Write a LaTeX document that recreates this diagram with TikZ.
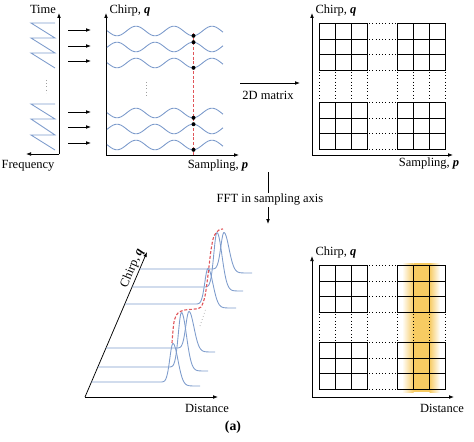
\documentclass[tikz,border=0pt]{standalone}
\usepackage{fontspec}
\setmainfont{Liberation Serif}
\usetikzlibrary{arrows.meta, positioning, calc}
\definecolor{TraceBlue}{HTML}{7E9CCC}
\definecolor{PeakRed}{HTML}{E0555A}
\definecolor{BinYellow}{HTML}{F7CB62}
\definecolor{DotGray}{HTML}{A0A0A0}
\tikzset{
  axis/.style={-{Latex[length=4pt,width=3pt]}, line width=0.6pt},
  flow/.style={-{Latex[length=4pt,width=3pt]}, line width=0.6pt},
  trace/.style={TraceBlue, line width=0.7pt},
  cell/.style={line width=1.3pt, line cap=rect},
  gapline/.style={dotted, line width=0.6pt},
  redline/.style={PeakRed, dash pattern=on 2.4pt off 1.4pt, line width=0.9pt},
  lbl/.style={font=\fontsize{10}{12}\selectfont, inner sep=1pt},
  sample/.style={circle, fill=black, inner sep=0pt, minimum size=3.2pt},
}
\newcommand{\qlab}{\textbf{\textit{q}}}
\newcommand{\plab}{\textbf{\textit{p}}}
% one 3x3 block of the matrix, from its top left corner
\newcommand{\matblock}[2]{%
  \foreach \cc in {0,16,32,48}
    \draw[cell] ({#1+\cc},#2) -- ({#1+\cc},{#2+47});
  \foreach \rr in {0,16,31,47}
    \draw[cell] (#1,{#2+\rr}) -- ({#1+48},{#2+\rr});
}

\begin{document}
\begin{tikzpicture}[x=0.8pt, y=-0.8pt,
  declare function={
    pk(\x,\c,\h)=\h*exp(-min(((\x-\c)/((\x<\c)?4.5:7))^2,9));
    stp(\x,\c)=1/(1+exp(-max(min((\x-\c)/3,9),-9)));
  }]
  \useasboundingbox (0,0) rectangle (474,441);

  % Chirp sequence (time vs frequency)
  \coordinate (o1) at (59,154);
  \coordinate (t1) at (59,13);
  \coordinate (f1) at (26,154);
  \draw[axis] (o1) -- (t1);
  \draw[axis] (o1) -- (f1);
  \node[lbl] (time) at (43,9) {Time};
  \node[lbl] (freq) at (28,166) {Frequency};
  \draw[trace] (55,68) -- (31,53) -- (55,53) -- (31,38) -- (55,38) -- (31,23) -- (55,23);
  \draw[trace] (55,150) -- (31,135) -- (55,135) -- (31,119) -- (55,119) -- (31,104) -- (55,104);
  \draw[gapline, DotGray] (46,80) -- (46,93);

  % Chirps to received signals
  \foreach \y in {30,46,61,112,127,143} {
    \coordinate (a\y) at (68,\y);
    \coordinate (b\y) at (91,\y);
    \draw[flow] (a\y) -- (b\y);
  }

  % Received beat signals
  \coordinate (o2) at (106,155);
  \coordinate (q2) at (106,13);
  \coordinate (p2) at (239,155);
  \draw[axis] (o2) -- (q2);
  \draw[axis] (o2) -- (p2);
  \node[lbl, anchor=west] (chirp2) at (108,10) {Chirp, \qlab};
  \node[lbl] (samp2) at (218,166) {Sampling, \plab};
  \foreach \c/\ph in {31/183.5, 47/164.5, 63/183.5, 113/183.5, 129/164.5, 145/183.5}
    \draw[trace] plot[domain=107:223, samples=100, smooth] (\x, {\c+4.8*sin((\x-\ph)/38*360)});
  \draw[redline] (193.5,33) -- (193.5,155);
  \foreach \c/\ph in {31/183.5, 47/164.5, 63/183.5, 113/183.5, 129/164.5, 145/183.5} {
    \pgfmathsetmacro\sy{\c+4.8*sin((193.5-\ph)/38*360)}
    \node[sample] (smp\c) at (193.5,\sy) {};
  }
  \draw[gapline, DotGray] (146,82) -- (146,97);

  % To matrix
  \coordinate (mIn) at (240,83);
  \coordinate (mOut) at (300,83);
  \draw[flow] (mIn) -- (mOut);
  \node[lbl] (mat) at (268,95) {2D matrix};

  % Sampled data matrix
  \coordinate (o3) at (312,155);
  \coordinate (q3) at (312,13);
  \coordinate (p3) at (453,155);
  \draw[axis] (o3) -- (q3);
  \draw[axis] (o3) -- (p3);
  \node[lbl, anchor=west] (chirp3) at (314,10) {Chirp, \qlab};
  \node[lbl] (samp3) at (429,164) {Sampling, \plab};
  \matblock{319.5}{23.5}
  \matblock{397.5}{23.5}
  \matblock{319.5}{102.5}
  \matblock{397.5}{102.5}
  \foreach \rr in {0,16,31,47} {
    \draw[gapline] (369,{23.5+\rr}) -- (396,{23.5+\rr});
    \draw[gapline] (369,{102.5+\rr}) -- (396,{102.5+\rr});
  }
  \foreach \cc in {0,16,32,48} {
    \draw[gapline] ({319.5+\cc},72) -- ({319.5+\cc},101);
    \draw[gapline] ({397.5+\cc},72) -- ({397.5+\cc},101);
  }

  % FFT step
  \coordinate (fTop) at (268,172);
  \node[lbl] (fft) at (270,200) {FFT in sampling axis};
  \coordinate (fBot) at (268,224);
  \draw[line width=0.6pt] (fTop) -- (fTop |- fft.north);
  \draw[flow] (fTop |- fft.south) -- (fBot);

  % Range profiles
  \coordinate (o5) at (85,397);
  \coordinate (p5) at (218,397);
  \coordinate (q5) at (147,252);
  \draw[axis] (o5) -- (p5);
  \draw[axis] (o5) -- (q5) node[lbl, pos=0.87, sloped, above] (chirp5) {Chirp, \qlab};
  \node[lbl] (dist5) at (207,408) {Distance};
  \foreach \b/\c/\h/\e in {382/173/39/200, 367/181.5/55/208, 348/189/37/215,
                           304/208/36/236, 287/217/55/243, 269/224/37/252} {
    \pgfmathsetmacro\s{85+(397-\b)*62/145}
    \draw[trace] plot[domain=\s:\e, samples=140, smooth]
      (\x, {\b-pk(\x,\c,\h)+4*stp(\x,\c+6)});
  }
  \draw[redline] plot[smooth] coordinates {
    (172,343) (174,322) (178,313) (185,310) (195,309) (201,307) (205,296)
    (208,275) (211,250) (214,236) (219,230) (223,229)};
  \draw[gapline, DotGray] (200,326) -- (206,308);
  \node[lbl, font=\fontsize{11}{13}\selectfont\bfseries] (tag) at (233,427) {(a)};

  % Range-Doppler matrix
  \fill[BinYellow] (413.5,263) rectangle (429.5,392);
  \shade[left color=white, right color=BinYellow] (402,263) rectangle (413.5,392);
  \shade[left color=BinYellow, right color=white] (429.5,263) rectangle (440,392);
  \coordinate (o4) at (312,397);
  \coordinate (q4) at (312,256);
  \coordinate (p4) at (454,397);
  \draw[axis] (o4) -- (q4);
  \draw[axis] (o4) -- (p4);
  \node[lbl, anchor=west] (chirp4) at (314,252) {Chirp, \qlab};
  \node[lbl] (dist4) at (442,408) {Distance};
  \matblock{319.5}{265.5}
  \matblock{397.5}{265.5}
  \matblock{319.5}{342.5}
  \matblock{397.5}{342.5}
  \foreach \rr in {0,16,31,47} {
    \draw[gapline] (369,{265.5+\rr}) -- (396,{265.5+\rr});
    \draw[gapline] (369,{342.5+\rr}) -- (396,{342.5+\rr});
  }
  \foreach \cc in {0,16,32,48} {
    \draw[gapline] ({319.5+\cc},314) -- ({319.5+\cc},341);
    \draw[gapline] ({397.5+\cc},314) -- ({397.5+\cc},341);
  }
\end{tikzpicture}
\end{document}
